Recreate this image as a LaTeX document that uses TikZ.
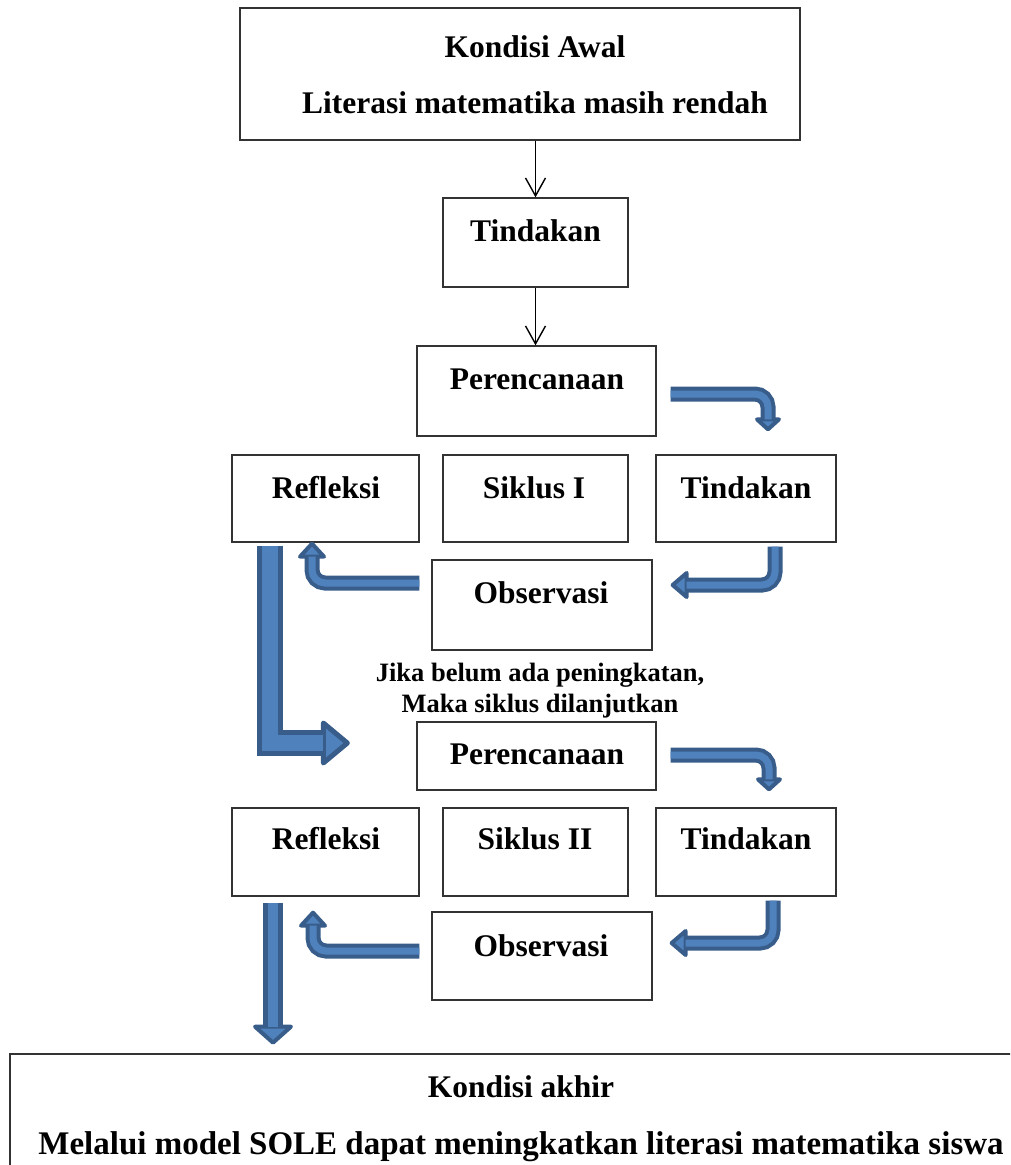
\documentclass[tikz,border=0pt]{standalone}
\usepackage{fontspec}
\setmainfont{Liberation Serif}
\usetikzlibrary{arrows.meta}
\definecolor{bedge}{HTML}{385D8A}
\definecolor{bfill}{HTML}{4F81BD}
\begin{document}
\begin{tikzpicture}[x=1pt, y=-1pt,
		kotak/.style={draw=black!80, line width=1.3pt, inner sep=0pt},
		teks/.style={font=\fontsize{31.5}{38}\selectfont\bfseries, anchor=base, inner sep=0pt},
		kecil/.style={font=\fontsize{26.5}{32}\selectfont\bfseries, anchor=base, inner sep=0pt},
		panah/.style={line width=1.4pt, -{Straight Barb[length=18pt,width=20pt]}},
		kepala/.style={fill=bfill, draw=bedge, line width=4pt, line join=round},
		batang/.style={draw=bedge, line width=15pt, postaction={draw=bfill, line width=7pt}},
		batangsedang/.style={draw=bedge, line width=20pt, postaction={draw=bfill, line width=10pt}},
		batangbesar/.style={draw=bedge, line width=26pt, postaction={draw=bfill, line width=16pt}}]
	
	\useasboundingbox (0,0) rectangle (1010,1165);
	\clip (0,0) rectangle (1010,1165);
	
	% Kondisi awal
	\node[kotak, minimum width=560, minimum height=132] (awal) at (520,74) {};
	\node[teks] (awalj) at (535,57) {Kondisi Awal};
	\node[teks] (awalt) at (535,113) {Literasi matematika masih rendah};
	
	\node[kotak, minimum width=185, minimum height=89] (tind0) at (535.5,242.5) {};
	\node[teks] (tind0t) at (535.5,241) {Tindakan};
	
	% Siklus I
	\node[kotak, minimum width=239, minimum height=90] (per1) at (536.5,391) {};
	\node[teks] (per1t) at (537,389) {Perencanaan};
	\node[kotak, minimum width=187, minimum height=87] (ref1) at (325.5,498.5) {};
	\node[teks] (ref1t) at (326,498) {Refleksi};
	\node[kotak, minimum width=185, minimum height=87] (sik1) at (535.5,498.5) {};
	\node[teks] (sik1t) at (534,498) {Siklus I};
	\node[kotak, minimum width=180, minimum height=87] (tind1) at (746,498.5) {};
	\node[teks] (tind1t) at (746,498) {Tindakan};
	\node[kotak, minimum width=220, minimum height=90] (obs1) at (542,605) {};
	\node[teks] (obs1t) at (541,603) {Observasi};
	
	\node[kecil] (jika) at (540,681) {Jika belum ada peningkatan,};
	\node[kecil] (maka) at (540,712) {Maka siklus dilanjutkan};
	
	% Siklus II
	\node[kotak, minimum width=239, minimum height=68] (per2) at (536.5,756) {};
	\node[teks] (per2t) at (537,764) {Perencanaan};
	\node[kotak, minimum width=187, minimum height=88] (ref2) at (325.5,852) {};
	\node[teks] (ref2t) at (326,849) {Refleksi};
	\node[kotak, minimum width=185, minimum height=88] (sik2) at (535.5,852) {};
	\node[teks] (sik2t) at (535,849) {Siklus II};
	\node[kotak, minimum width=180, minimum height=88] (tind2) at (746,852) {};
	\node[teks] (tind2t) at (746,849) {Tindakan};
	\node[kotak, minimum width=220, minimum height=88] (obs2) at (542,956) {};
	\node[teks] (obs2t) at (541,956) {Observasi};
	
	% Kondisi akhir
	\node[kotak, minimum width=1040, minimum height=152] (akhir) at (530,1130) {};
	\node[teks] (akhirj) at (521,1097) {Kondisi akhir};
	\node[teks, font=\fontsize{33}{40}\selectfont\bfseries] (akhirt) at (521,1154) {Melalui model SOLE dapat meningkatkan literasi matematika siswa};
	
	% Panah tipis
	\draw[panah] (tind0.north |- awal.south) -- (tind0.north);
	\draw[panah] (tind0.south) -- (tind0.south |- per1.north);
	
	% Panah biru siklus I
	\coordinate (u1) at ([shift={(22,-35)}]tind1.north);
	\filldraw[kepala] (u1) ++(-11,0) -- ++(22,0) -- ++(-11,10) -- cycle;
	\draw[batang, rounded corners=13pt] ([shift={(14,3)}]per1.east) -| (u1);
	
	\coordinate (u2) at ([shift={(34,-20)}]obs1.east);
	\filldraw[kepala] (u2) ++(0,-12) -- ++(0,24) -- ++(-14,-12) -- cycle;
	\draw[batang, rounded corners=13pt] ([shift={(29,4)}]tind1.south) |- (u2);
	
	\coordinate (u3) at ([shift={(-13.5,14)}]ref1.south);
	\filldraw[kepala] (u3) ++(-12,0) -- ++(24,0) -- ++(-12,-13) -- cycle;
	\draw[batang, rounded corners=13pt] ([shift={(-12,-22)}]obs1.west) -| (u3);
	
	% Panah ke siklus II
	\coordinate (u4) at ([shift={(-93,-13)}]per2.west);
	\filldraw[kepala, line width=5pt] (u4) ++(0,-20) -- ++(0,40) -- ++(24,-20) -- cycle;
	\draw[batangbesar] ([shift={(-55.5,3)}]ref1.south) |- (u4);
	
	% Panah biru siklus II
	\coordinate (u5) at ([shift={(23,-28)}]tind2.north);
	\filldraw[kepala] (u5) ++(-11,0) -- ++(22,0) -- ++(-11,10) -- cycle;
	\draw[batang, rounded corners=13pt] ([shift={(14,-1)}]per2.east) -| (u5);
	
	\coordinate (u6) at ([shift={(33,-13)}]obs2.east);
	\filldraw[kepala] (u6) ++(0,-12) -- ++(0,24) -- ++(-14,-12) -- cycle;
	\draw[batang, rounded corners=13pt] ([shift={(27,4)}]tind2.south) |- (u6);
	
	\coordinate (u7) at ([shift={(-12.5,29)}]ref2.south);
	\filldraw[kepala] (u7) ++(-12,0) -- ++(24,0) -- ++(-12,-13) -- cycle;
	\draw[batang, rounded corners=13pt] ([shift={(-12,-5)}]obs2.west) -| (u7);
	
	% Panah ke kondisi akhir
	\coordinate (u8) at ([shift={(-52.5,130)}]ref2.south);
	\filldraw[kepala] (u8) ++(-18,0) -- ++(36,0) -- ++(-18,16) -- cycle;
	\draw[batangsedang] ([shift={(-52.5,6)}]ref2.south) -- (u8);
	
\end{tikzpicture}
\end{document}
